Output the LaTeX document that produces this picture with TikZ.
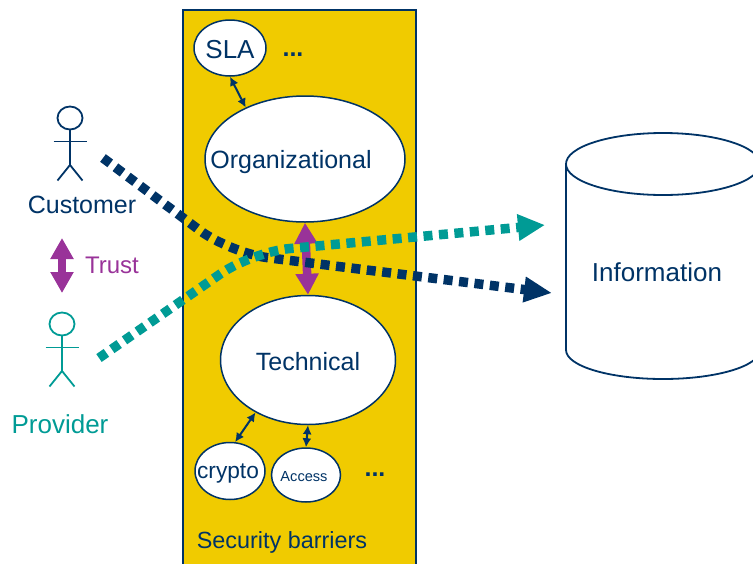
\documentclass[tikz,border=0pt]{standalone}
\usepackage{fontspec}
\setmainfont{Liberation Sans}
\usetikzlibrary{arrows.meta,shapes.geometric}
\definecolor{navy}{HTML}{003366}
\definecolor{teal}{HTML}{009B95}
\definecolor{plum}{HTML}{993399}
\definecolor{gold}{HTML}{F0CB00}
\newcommand{\lsize}[1]{\fontsize{#1}{#1}\selectfont}
\newcommand{\ctext}[2][0pt]{\makebox[0pt]{\hspace{#1}#2}}
\newcommand{\stickfig}[3]{% colour, x, y of the head centre
\path[draw,#1,line width=1.8pt] (#2,#3) ellipse [x radius=12.5,y radius=11.5];
\path[draw,#1,line width=1.8pt] (#2,#3+11.5) -- (#2,#3+47);
\path[draw,#1,line width=1.8pt] (#2-16.5,#3+23.5) -- (#2+16.5,#3+23.5);
\path[draw,#1,line width=1.8pt] (#2-12.5,#3+62.5) -- (#2,#3+47) -- (#2+12.5,#3+62.5);
}
\tikzset{
  lab/.style={anchor=base,inner sep=0pt,text=navy},
  blob/.style={draw=navy,fill=white,line width=1.5pt,ellipse,inner sep=0pt,text=navy,text depth=0pt},
  small/.style={draw,navy,line width=2pt,{Latex[length=9pt,width=9pt]}-{Latex[length=9pt,width=9pt]}},
  trustarrow/.style={draw,plum,line width=8.5pt,{Triangle[length=21pt,width=22pt]}-{Triangle[length=21pt,width=22pt]}},
  flow/.style={draw,line width=9.5pt,dash pattern=on 9pt off 6.5pt,rounded corners=38pt},
  drum/.style={draw=navy,line width=1.8pt},
}
\begin{document}
\begin{tikzpicture}[x=1pt,y=-1pt]
\useasboundingbox (0,0) rectangle (753,563);
\path[draw=navy,fill=gold,line width=1.8pt] (183,10) rectangle (416,575);
% barriers
\node[blob,minimum width=72pt,minimum height=56pt,text height=20pt] (sla) at (230,48) {\lsize{26}\ctext{SLA}};
\node[blob,minimum width=200pt,minimum height=126pt,text height=18pt] (org) at (305,159) {\lsize{25}\ctext[-28pt]{Organizational}};
\node[blob,minimum width=175pt,minimum height=129pt,text height=20pt] (tech) at (308,360) {\lsize{25}\ctext{Technical}};
\node[blob,minimum width=70pt,minimum height=57pt,text height=14pt] (crypto) at (230,471) {\lsize{22.7}\ctext[-4pt]{crypto}};
\node[blob,minimum width=69pt,minimum height=54pt,text height=12pt] (access) at (306,475) {\lsize{14.6}\ctext[-4pt]{Access}};
\node[lab] (moreorg) at (293,56) {\lsize{25}\bfseries ...};
\node[lab] (moretech) at (375,476) {\lsize{25}\bfseries ...};
\node[lab] (barriers) at (282,548) {\lsize{23.4}Security barriers};
\path[small] (sla.south) -- (org.139);
\path[small] (crypto.80) -- (tech.225);
\path[small] (access.north) -- (tech.south);
\path[trustarrow] (org.south) -- (tech.north);
% actors
\stickfig{navy}{70}{118}
\stickfig{teal}{62}{324}
\node[lab] (customer) at (82,213) {\lsize{25}Customer};
\node[lab,text=teal] (provider) at (60,433) {\lsize{26}Provider};
\node[lab,text=plum] (trust) at (112,273) {\lsize{24}Trust};
\coordinate (trusttop) at (62,238);
\coordinate (trustbot) at (62,293);
\path[trustarrow] (trusttop) -- (trustbot);
% information
\path[drum] (663,164) ellipse [x radius=97,y radius=31];
\path[drum] (566,164) -- (566,350) arc [start angle=180,end angle=0,x radius=97,y radius=29] -- (760,164);
\node[lab] (info) at (657,281) {\lsize{26}Information};
% flows
\coordinate (custfrom) at (103,158);
\coordinate (custbend) at (230,253);
\coordinate (custto) at (552,293);
\coordinate (provfrom) at (99,358);
\coordinate (provbend) at (252,252);
\coordinate (provto) at (545,225);
\path[flow,navy,-{Triangle[length=28pt,width=24pt]}] (custfrom) -- (custbend) -- (custto);
\path[flow,teal,-{Triangle[length=27pt,width=25pt]}] (provfrom) -- (provbend) -- (provto);
\end{tikzpicture}
\end{document}
